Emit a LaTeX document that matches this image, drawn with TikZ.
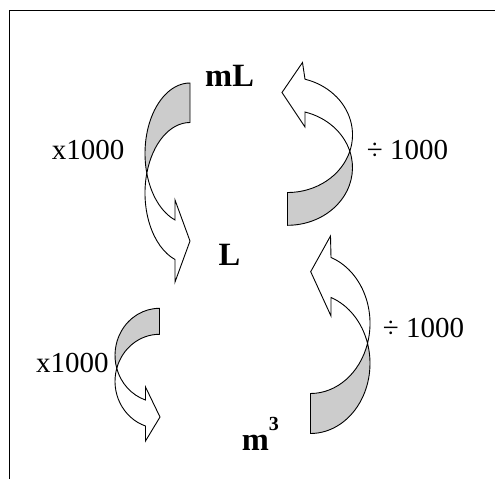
\documentclass[tikz,border=0pt]{standalone}
\usepackage{fontspec}
\setmainfont{Liberation Serif}
\definecolor{bandgrey}{RGB}{204,204,204}
\tikzset{
  band/.style={draw=black, line width=0.9pt, line join=miter, fill=bandgrey},
  face/.style={draw=black, line width=0.9pt, line join=miter, fill=white},
  unit/.style={inner sep=0pt, anchor=base west, font=\fontsize{32.5}{36}\selectfont\bfseries},
  factor/.style={inner sep=0pt, anchor=base west, font=\fontsize{29}{32}\selectfont},
}
\begin{document}
\begin{tikzpicture}[x=1pt, y=-1pt]
\useasboundingbox (0,0) rectangle (495,479);

% frame
\draw[line width=1.1pt] (9.3,479) -- (9.3,10.7) -- (495,10.7);

% mL -> L  (curved arrow on the left, pointing down)
\path[face] (146.8,173.25)
  arc[start angle=163.73, end angle=109.47, x radius=45, y radius=70.5]
  -- (175,200) -- (190,241) -- (175,282) -- (175,259.5)
  arc[start angle=109.47, end angle=196.27, x radius=45, y radius=70.5] -- cycle;
\path[band] (190,83)
  arc[start angle=270, end angle=163.73, x radius=45, y radius=70.5]
  arc[start angle=196.27, end angle=270, x radius=45, y radius=70.5] -- cycle;

% L -> mL  (curved arrow on the right, pointing up)
\path[face] (349.8,151.2)
  arc[start angle=-16.5, end angle=-74.4, x radius=65, y radius=57.7]
  -- (305,127) -- (282,92.5) -- (302.5,62.5) -- (305,79.2)
  arc[start angle=-74.4, end angle=16.5, x radius=65, y radius=57.7] -- cycle;
\path[band] (287.5,225.3)
  arc[start angle=90, end angle=-16.5, x radius=65, y radius=57.7]
  arc[start angle=16.5, end angle=90, x radius=65, y radius=57.7] -- cycle;

% L -> m3  (curved arrow on the left, pointing down)
\path[face] (116.73,368.35)
  arc[start angle=163.96, end angle=108.34, x radius=44.5, y radius=47.05]
  -- (145.5,387) -- (160,417) -- (145.5,441) -- (145.5,426)
  arc[start angle=108.34, end angle=196.04, x radius=44.5, y radius=47.05] -- cycle;
\path[band] (159.5,308.3)
  arc[start angle=270, end angle=163.96, x radius=44.5, y radius=47.05]
  arc[start angle=196.04, end angle=270, x radius=44.5, y radius=47.05] -- cycle;

% m3 -> L  (curved arrow on the right, pointing up)
\path[face] (367.53,343.35)
  arc[start angle=-16.57, end angle=-69.85, x radius=59.5, y radius=70.15]
  -- (331,316) -- (310.7,271.7) -- (330.5,236) -- (331,257.5)
  arc[start angle=-69.85, end angle=16.57, x radius=59.5, y radius=70.15] -- cycle;
\path[band] (310.5,433.5)
  arc[start angle=90, end angle=-16.57, x radius=59.5, y radius=70.15]
  arc[start angle=16.57, end angle=90, x radius=59.5, y radius=70.15] -- cycle;

% units
\node[unit] (ml) at (205,86.7) {mL};
\node[unit] (l) at (218.3,265) {L};
\node[unit] (m3) at (241.7,450) {m\raisebox{0.59em}{\fontsize{20}{22}\selectfont 3}};

% conversion factors
\node[factor] (f1) at (51.7,159.3) {x1000};
\node[factor] (f2) at (366.7,159.3) {÷ 1000};
\node[factor] (f3) at (36,372.3) {x1000};
\node[factor] (f4) at (382.7,337.3) {÷ 1000};
\end{tikzpicture}
\end{document}
